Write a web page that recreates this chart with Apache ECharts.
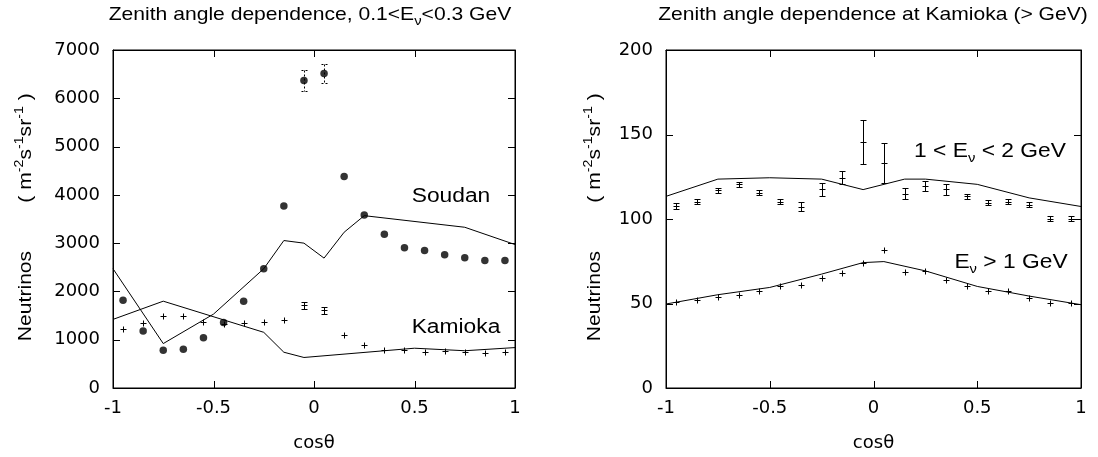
<!DOCTYPE html>
<html>
<head>
<meta charset="utf-8">
<script src="https://cdn.jsdelivr.net/npm/echarts@6/dist/echarts.min.js"></script>
<style>
  html, body { margin: 0; padding: 0; background: #fff; }
  #chart { width: 1098px; height: 457px; }
</style>
</head>
<body>
<div id="chart"></div>
<script>
// bin centres in cos(theta)
const cosBins = [-0.95, -0.85, -0.75, -0.65, -0.55, -0.45, -0.35, -0.25, -0.15, -0.05,
                 0.05, 0.15, 0.25, 0.35, 0.45, 0.55, 0.65, 0.75, 0.85, 0.95];

// tick positions
const cosTicks = [-1, -0.5, 0, 0.5, 1];
const leftTicks = [0, 1000, 2000, 3000, 4000, 5000, 6000, 7000];
const rightTicks = [0, 50, 100, 150, 200];

// left panel: 0.1 < E < 0.3 GeV
const soudanData = [1818, 1180, 782, 803, 1043, 1359, 1798, 2470, 3768, 6368,
                    6512, 4379, 3582, 3184, 2903, 2848, 2759, 2697, 2642, 2642];
const soudanErr = [0, 0, 0, 0, 0, 0, 0, 0, 0, 220, 200, 0, 0, 0, 0, 0, 0, 0, 0, 0];
const kamiokaData = [1215, 1345, 1496, 1482, 1373, 1324, 1345, 1366, 1400, 1709,
                     1606, 1098, 892, 796, 782, 748, 762, 748, 734, 741];
const kamiokaErr = [0, 0, 0, 0, 0, 0, 0, 0, 0, 70, 70, 0, 0, 0, 0, 0, 0, 0, 0, 0];

const soudanModelX = [-1, -0.75, -0.5, -0.25, -0.15, -0.05, 0.05, 0.15, 0.25, 0.75, 1];
const soudanModelY = [2470, 920, 1530, 2470, 3054, 3000, 2690, 3226, 3569, 3329, 2971];
const kamiokaModelX = [-1, -0.75, -0.25, -0.15, -0.05, 0.5, 0.75, 1];
const kamiokaModelY = [1421, 1798, 1153, 741, 632, 824, 772, 837];

// right panel: Kamioka above 1 GeV
const midData = [107.7, 110.3, 117.0, 120.5, 115.6, 110.3, 107.2, 117.5, 124.4, 145.8,
                 133.1, 115.0, 119.5, 117.5, 113.4, 109.5, 110.3, 108.5, 100.1, 100.1];
const midErr = [1.5, 1.5, 1.5, 1.5, 1.5, 1.5, 2.7, 3.6, 3.8, 13.0,
                11.7, 3.4, 3.1, 3.3, 1.6, 1.5, 1.5, 1.5, 1.5, 1.5];
const highData = [50.9, 51.9, 54.0, 54.8, 57.2, 60.3, 60.9, 65.0, 67.9, 74.2,
                  81.6, 68.7, 69.3, 63.8, 60.3, 57.4, 57.2, 53.2, 50.1, 50.3];

const midModelX = [-1, -0.75, -0.5, -0.25, -0.05, 0.15, 0.25, 0.5, 0.75, 1];
const midModelY = [113.4, 123.6, 124.4, 123.6, 117.4, 123.6, 123.6, 120.5, 112.5, 107.4];
const highModelX = [-1, -0.75, -0.5, -0.25, -0.05, 0.05, 0.25, 0.5, 0.75, 1];
const highModelY = [49.7, 55.2, 59.5, 67.4, 74.2, 74.8, 69.3, 60.1, 54.4, 49.3];

const chart = echarts.init(document.getElementById('chart'));

const zip = (xs, ys) => xs.map((x, i) => [x, ys[i]]);
const zip3 = (xs, ys, es) => xs.map((x, i) => [x, ys[i], es[i]]);

const px = (v) => Math.round(v) + 0.5;
const TICK = 7;

// "+" marks with optional error bar and caps
const crossRender = (arm, cap, dashed) => (params, api) => {
  const x = api.value(0), y = api.value(1), e = api.value(2);
  const c = api.coord([x, y]);
  const cx = px(c[0]), cy = px(c[1]);
  const style = { stroke: '#000', lineWidth: 1, lineDash: dashed ? [2, 2] : null };
  const seg = (x1, y1, x2, y2) => ({ type: 'line', shape: { x1, y1, x2, y2 }, style });
  const kids = [];
  if (arm > 0) kids.push(seg(cx - arm, cy, cx + arm, cy));
  if (e > 0) {
    const hi = px(api.coord([x, y + e])[1]);
    const lo = px(api.coord([x, y - e])[1]);
    kids.push(seg(cx, hi, cx, lo));
    kids.push(seg(cx - cap, hi, cx + cap, hi));
    kids.push(seg(cx - cap, lo, cx + cap, lo));
  } else {
    kids.push(seg(cx, cy - arm, cx, cy + arm));
  }
  return { type: 'group', children: kids };
};

// inward frame ticks on both sides, placed through the axis scales
const tickRender = (dim) => (params, api) => {
  const style = { stroke: '#000', lineWidth: 1 };
  const seg = (x1, y1, x2, y2) => ({ type: 'line', shape: { x1, y1, x2, y2 }, style });
  if (dim === 'x') {
    const v = api.value(0);
    const b = api.coord([v, api.value(1)]);
    const t = api.coord([v, api.value(2)]);
    const x = px(b[0]);
    return { type: 'group', children: [seg(x, b[1], x, b[1] - TICK), seg(x, t[1], x, t[1] + TICK)] };
  }
  const v = api.value(1);
  const l = api.coord([api.value(0), v]);
  const r = api.coord([api.value(2), v]);
  const y = px(l[1]);
  return { type: 'group', children: [seg(l[0], y, l[0] + TICK, y), seg(r[0], y, r[0] - TICK, y)] };
};

const black = { color: '#000', width: 1 };
const tickFont = { color: '#000', fontFamily: 'DejaVu Sans', fontSize: 18 };

const axis = (o) => Object.assign({
  type: 'value',
  axisLine: { show: true, onZero: false, lineStyle: { color: '#000', width: 1 } },
  splitLine: { show: false },
  axisTick: { show: false },
  axisLabel: Object.assign({ margin: 11, formatter: (v) => String(v) }, tickFont)
}, o);

const xAxes = (grid) => [
  axis({
    gridIndex: grid, position: 'bottom', min: -1, max: 1, interval: 0.5,
    name: 'cosθ', nameLocation: 'middle', nameGap: 46,
    nameTextStyle: { color: '#000', fontFamily: 'DejaVu Sans', fontSize: 18 }
  }),
  axis({ gridIndex: grid, position: 'top', min: -1, max: 1, interval: 0.5, axisLabel: { show: false } })
];

const yAxes = (grid, max, interval) => [
  axis({
    gridIndex: grid, position: 'left', min: 0, max, interval,
    axisLabel: Object.assign({ margin: 13, formatter: (v) => String(v) }, tickFont)
  }),
  axis({ gridIndex: grid, position: 'right', min: 0, max, interval, axisLabel: { show: false } })
];

const lineSeries = (xi, yi, xs, ys) => ({
  type: 'line', xAxisIndex: xi, yAxisIndex: yi, data: zip(xs, ys),
  symbol: 'none', lineStyle: black, silent: true
});

const crossSeries = (xi, yi, data, arm, cap, dashed) => ({
  type: 'custom', xAxisIndex: xi, yAxisIndex: yi, data,
  renderItem: crossRender(arm, cap, dashed), silent: true
});

// x ticks: [value, bottom, top]; y ticks: [left, value, right]
const tickSeries = (xi, yi, dim, values, lo, hi) => ({
  type: 'custom', xAxisIndex: xi, yAxisIndex: yi, silent: true,
  data: values.map((v) => (dim === 'x' ? [v, lo, hi] : [lo, v, hi])),
  renderItem: tickRender(dim)
});

// rich text for super/subscripts
const txtFont = 'Liberation Sans';
const rich = {
  n: { fontFamily: txtFont, fontSize: 18.5, lineHeight: 26, color: '#000' },
  big: { fontFamily: txtFont, fontSize: 20, lineHeight: 28, color: '#000' },
  sup: { fontFamily: txtFont, fontSize: 12.5, lineHeight: 12, verticalAlign: 'top', color: '#000' },
  sub: { fontFamily: txtFont, fontSize: 13, lineHeight: 12, verticalAlign: 'bottom', color: '#000' }
};

const label = (x, y, text, rot) => ({
  type: 'text', x, y, rotation: rot || 0, scaleX: 1.14, silent: true,
  style: { text, rich, textAlign: 'center', textVerticalAlign: 'middle' }
});

chart.setOption({
  animation: false,
  grid: [
    { left: 113, top: 50, width: 402, height: 340, show: true, borderColor: '#000', borderWidth: 1 },
    { left: 666, top: 50, width: 415, height: 340, show: true, borderColor: '#000', borderWidth: 1 }
  ],
  xAxis: [...xAxes(0), ...xAxes(1)],
  yAxis: [...yAxes(0, 7000, 1000), ...yAxes(1, 200, 50)],
  graphic: [
    label(310, 15, '{n|Zenith angle dependence, 0.1<E}{sub|ν}{n|<0.3 GeV}'),
    label(873, 15, '{n|Zenith angle dependence at Kamioka (> GeV)}'),
    label(26, 296, '{n|Neutrinos}', Math.PI / 2),
    label(26, 148, '{n|( m}{sup|-2}{n|s}{sup|-1}{n|sr}{sup|-1}{n| )}', Math.PI / 2),
    label(595, 296, '{n|Neutrinos}', Math.PI / 2),
    label(595, 148, '{n|( m}{sup|-2}{n|s}{sup|-1}{n|sr}{sup|-1}{n| )}', Math.PI / 2),
    label(451, 196, '{big|Soudan}'),
    label(456, 327, '{big|Kamioka}'),
    label(990, 151, '{big|1 < E}{sub|ν}{big| < 2 GeV}'),
    label(1011, 262, '{big|E}{sub|ν}{big| > 1 GeV}')
  ],
  series: [
    tickSeries(0, 0, 'x', cosTicks, 0, 7000),
    tickSeries(0, 0, 'y', leftTicks, -1, 1),
    tickSeries(2, 2, 'x', cosTicks, 0, 200),
    tickSeries(2, 2, 'y', rightTicks, -1, 1),
    lineSeries(0, 0, soudanModelX, soudanModelY),
    lineSeries(0, 0, kamiokaModelX, kamiokaModelY),
    crossSeries(0, 0, zip3(cosBins, soudanData, soudanErr).filter((d) => d[2] > 0), 0, 3, true),
    {
      type: 'scatter', xAxisIndex: 0, yAxisIndex: 0, data: zip(cosBins, soudanData),
      symbol: 'circle', symbolSize: 7.5, itemStyle: { color: '#000' }, silent: true
    },
    crossSeries(0, 0, zip3(cosBins, kamiokaData, kamiokaErr), 3, 3, false),
    lineSeries(2, 2, midModelX, midModelY),
    lineSeries(2, 2, highModelX, highModelY),
    crossSeries(2, 2, zip3(cosBins, midData, midErr), 3, 3, false),
    crossSeries(2, 2, zip(cosBins, highData).map((d) => [d[0], d[1], 0]), 3, 3, false)
  ]
});

window.addEventListener('resize', () => chart.resize());
</script>
</body>
</html>
